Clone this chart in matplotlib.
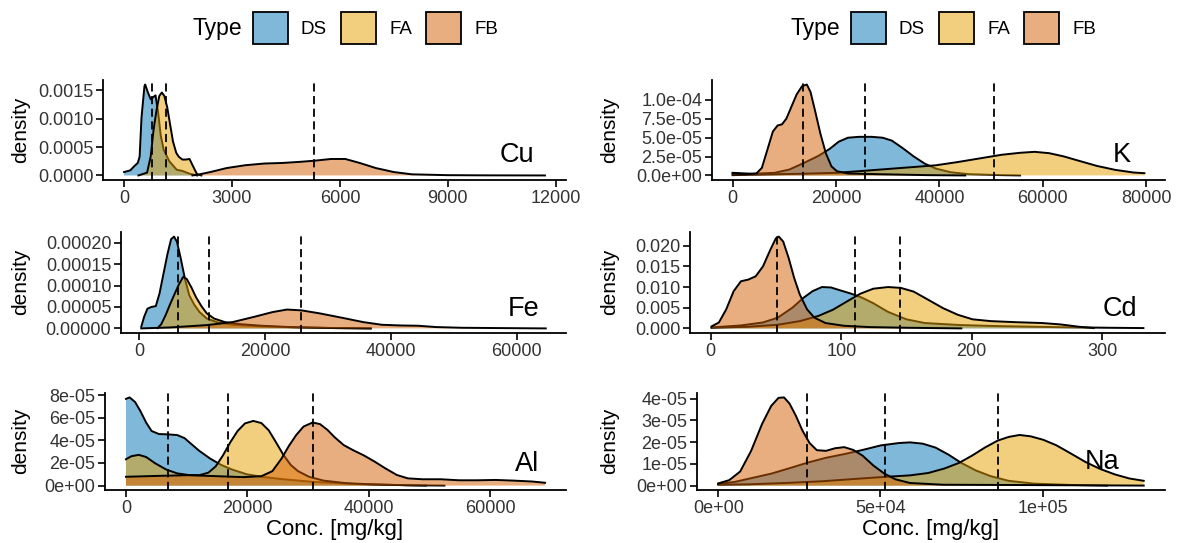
import matplotlib
matplotlib.use('Agg')
import matplotlib.pyplot as plt
from matplotlib.patches import Patch
from matplotlib.colors import to_rgba

plt.rcParams['font.family'] = ['Liberation Sans', 'DejaVu Sans']

groups = ['DS', 'FA', 'FB']
colors = ['#0072B2', '#E69F00', '#D55E00']

# ---- Cu ----
cu_ds_x = [0, 175, 278, 381, 433, 485, 567, 588, 670, 742, 814, 876, 949, 1021, 1103, 1258, 1464, 1619, 1825, 2031]
cu_ds_y = [0.00006, 0.00009, 0.00016, 0.00022, 0.00033, 0.00102, 0.00157, 0.0016, 0.00145, 0.00134, 0.00138,
           0.00141, 0.0011, 0.0007, 0.00045, 0.00025, 0.0001, 0.00008, 0.00003, 0.0]
cu_fa_x = [400, 640, 740, 820, 900, 980, 1050, 1120, 1200, 1280, 1360, 1450, 1520, 1620, 1720, 1820, 1920, 2030, 2150]
cu_fa_y = [0.0, 0.00005, 0.00033, 0.0008, 0.00114, 0.0014, 0.00146, 0.0014, 0.0012, 0.0009, 0.0006, 0.0004,
           0.00033, 0.00028, 0.00028, 0.00029, 0.00016, 0.00002, 0.0]
cu_fb_x = [1900, 2100, 2400, 2850, 3370, 3900, 4400, 4900, 5300, 5750, 6150, 6550, 7000, 7500, 8000, 9000, 10000, 11700]
cu_fb_y = [0.0, 0.00002, 0.00006, 0.00013, 0.00018, 0.00021, 0.00022, 0.00024, 0.00026, 0.00029, 0.00029,
           0.00022, 0.00013, 0.00006, 0.00002, 0.000005, 0.000002, 0.0]
cu_medians = [773, 1175, 5278]
cu_xticks = [0, 3000, 6000, 9000, 12000]
cu_xlabels = ['0', '3000', '6000', '9000', '12000']
cu_yticks = [0, 0.0005, 0.0010, 0.0015]
cu_ylabels = ['0.0000', '0.0005', '0.0010', '0.0015']

# ---- K ----
k_ds_x = [0, 3900, 8140, 10970, 13800, 16640, 18760, 20530, 22300, 24430, 26900, 29030, 30800, 32920, 35050,
          37170, 39300, 42130, 45670, 52000, 55600]
k_ds_y = [3.5e-06, 2.2e-06, 3.5e-06, 7.8e-06, 1.65e-05, 2.6e-05, 3.5e-05, 4.46e-05, 4.98e-05, 5.1e-05, 5.1e-05,
          4.98e-05, 4.6e-05, 3.6e-05, 2.5e-05, 1.56e-05, 9.1e-06, 4.3e-06, 1.7e-06, 4e-07, 0.0]
k_fa_x = [0, 6020, 13100, 20180, 25130, 29380, 34340, 39300, 43540, 47790, 52040, 55580, 58410, 61240, 64070,
          66910, 70450, 73990, 77520, 79650]
k_fa_y = [4e-07, 1.3e-06, 2.2e-06, 3.5e-06, 6e-06, 8.2e-06, 1.08e-05, 1.34e-05, 1.77e-05, 2.25e-05, 2.73e-05,
          2.99e-05, 3.12e-05, 2.94e-05, 2.51e-05, 1.95e-05, 1.26e-05, 7.4e-06, 3.9e-06, 3e-06]
k_fb_x = [0, 2480, 4600, 5660, 6730, 7790, 8710, 9560, 10400, 11330, 12390, 13450, 14370, 15080, 15930, 16990,
          18050, 19120, 20180, 22300, 27970, 37900, 45000]
k_fb_y = [2.6e-06, 1.7e-06, 2.6e-06, 1.0e-05, 3.4e-05, 5.8e-05, 6.6e-05, 6.75e-05, 7.5e-05, 9.0e-05, 1.07e-04,
          1.18e-04, 1.2e-04, 1.1e-04, 8.6e-05, 5.5e-05, 2.9e-05, 1.2e-05, 5.6e-06, 2.6e-06, 1.7e-06, 4e-07, 0.0]
k_medians = [25700, 50620, 13590]
k_xticks = [0, 20000, 40000, 60000, 80000]
k_xlabels = ['0', '20000', '40000', '60000', '80000']
k_yticks = [0, 2.5e-05, 5.0e-05, 7.5e-05, 1.0e-04]
k_ylabels = ['0.0e+00', '2.5e-05', '5.0e-05', '7.5e-05', '1.0e-04']

# ---- Fe ----
fe_ds_x = [290, 750, 1280, 1910, 2610, 3190, 3770, 4460, 5040, 5510, 5970, 6550, 7250, 7940, 8700, 9570, 10720,
           12460, 14780, 19420, 25220, 31010, 36800]
fe_ds_y = [3.8e-06, 2.7e-05, 4.6e-05, 5.0e-05, 5.2e-05, 8.1e-05, 1.23e-04, 1.73e-04, 2.08e-04, 2.14e-04, 2.02e-04,
           1.65e-04, 1.15e-04, 7.7e-05, 5.6e-05, 3.8e-05, 2.3e-05, 1.4e-05, 8.5e-06, 4.6e-06, 2.3e-06, 8e-07, 0.0]
fe_fa_x = [2900, 3480, 4170, 4930, 5620, 6260, 6960, 7540, 8290, 8990, 9860, 10720, 11880, 13620, 15940, 19420,
           24060, 31010, 36800]
fe_fa_y = [8e-07, 1.0e-05, 3.1e-05, 5.8e-05, 8.1e-05, 1.02e-04, 1.2e-04, 1.15e-04, 9.5e-05, 7.3e-05, 5.2e-05,
           3.5e-05, 2.3e-05, 1.46e-05, 1.0e-05, 6.2e-06, 3.1e-06, 8e-07, 0.0]
fe_fb_x = [290, 4930, 10720, 14780, 18260, 21160, 23480, 25800, 28700, 32170, 35650, 38550, 41450, 44350, 47250,
           51300, 57100, 64640]
fe_fb_y = [0.0, 2.3e-06, 7.7e-06, 1.46e-05, 2.7e-05, 3.8e-05, 4.4e-05, 4.2e-05, 3.5e-05, 2.5e-05, 1.46e-05,
           8.5e-06, 6.9e-06, 6.2e-06, 3.1e-06, 1.5e-06, 8e-07, 0.0]
fe_medians = [6200, 11010, 25680]
fe_xticks = [0, 20000, 40000, 60000]
fe_xlabels = ['0', '20000', '40000', '60000']
fe_yticks = [0, 5e-05, 1e-04, 1.5e-04, 2e-04]
fe_ylabels = ['0.00000', '0.00005', '0.00010', '0.00015', '0.00020']

# ---- Cd ----
cd_ds_x = [0.6, 23.1, 40, 51.3, 62.5, 71, 78, 85.1, 92.1, 99.2, 107.6, 116.1, 124.5, 135.8, 149.9, 164, 192.1,
           220.3, 262.5, 304.8, 331.6]
cd_ds_y = [0.00024, 0.00072, 0.00144, 0.0026, 0.005, 0.0074, 0.009, 0.01, 0.0099, 0.0092, 0.0084, 0.0074, 0.0061,
           0.004, 0.0022, 0.0013, 0.0008, 0.00056, 0.00032, 0.00016, 0.00008]
cd_fa_x = [0.6, 28.7, 51.3, 68.2, 82.3, 93.5, 104.8, 114.7, 124.5, 135.8, 145.6, 155.5, 166.8, 178, 189.3, 200.6,
           214.7, 234.4, 254.1, 268.2, 282.3, 293.5]
cd_fa_y = [0.00016, 0.0004, 0.00088, 0.00176, 0.003, 0.0045, 0.0066, 0.0084, 0.0096, 0.01, 0.0098, 0.0089, 0.0069,
           0.0049, 0.0033, 0.0022, 0.00176, 0.0015, 0.0013, 0.00096, 0.0004, 0.00008]
cd_fb_x = [0.6, 6.2, 11.8, 17.5, 23.1, 28.7, 34.4, 40, 45.6, 49.9, 52.1, 55.5, 59.7, 63.9, 68.2, 73.8, 79.4, 87.9,
           102, 121.7, 149.9, 192]
cd_fb_y = [0.00048, 0.00144, 0.0046, 0.009, 0.0114, 0.0118, 0.0126, 0.015, 0.019, 0.0218, 0.0222, 0.021, 0.017,
           0.0122, 0.0082, 0.0046, 0.0026, 0.0013, 0.00064, 0.00032, 0.00016, 0.0]
cd_medians = [110.4, 144.8, 50.7]
cd_xticks = [0, 100, 200, 300]
cd_xlabels = ['0', '100', '200', '300']
cd_yticks = [0, 0.005, 0.010, 0.015, 0.020]
cd_ylabels = ['0.000', '0.005', '0.010', '0.015', '0.020']

# ---- Al ----
al_ds_x = [0, 603, 1510, 2410, 3320, 4220, 5430, 6930, 8440, 9650, 10850, 12060, 13870, 15680, 17490, 19900,
           22310, 25930, 30750, 37390, 46430, 52460]
al_ds_y = [7.67e-05, 7.8e-05, 7.39e-05, 6.56e-05, 5.58e-05, 4.83e-05, 4.56e-05, 4.53e-05, 4.47e-05, 4.2e-05,
           3.64e-05, 3.08e-05, 2.39e-05, 1.83e-05, 1.42e-05, 1.0e-05, 7.8e-06, 5.6e-06, 3.3e-06, 1.4e-06, 3e-07, 0.0]
al_fa_x = [0, 900, 2110, 3320, 4820, 6630, 8440, 10250, 12060, 13570, 14770, 15980, 17190, 18390, 19600, 20980,
           22310, 23520, 24720, 25930, 27140, 28340, 30150, 32560, 36180, 40400, 46430, 49450]
al_fa_y = [2.33e-05, 2.6e-05, 2.72e-05, 2.53e-05, 1.97e-05, 1.42e-05, 1.08e-05, 9.4e-06, 9.2e-06, 1.14e-05,
           1.69e-05, 2.67e-05, 3.83e-05, 4.83e-05, 5.5e-05, 5.72e-05, 5.53e-05, 4.89e-05, 3.83e-05, 2.72e-05,
           1.83e-05, 1.28e-05, 7.8e-06, 4.4e-06, 2.2e-06, 1.1e-06, 3e-07, 0.0]
al_fb_x = [0, 5430, 10250, 15080, 19300, 22310, 24120, 25630, 26830, 28040, 29250, 30750, 31960, 33170, 34370,
           35880, 37390, 39190, 41000, 42810, 44620, 46430, 48840, 51860, 54870, 57890, 60900, 63920, 66930, 69040]
al_fb_y = [7.8e-06, 8.6e-06, 9.2e-06, 8.3e-06, 7.5e-06, 8.3e-06, 1.28e-05, 2.39e-05, 3.5e-05, 4.47e-05, 5.22e-05,
           5.58e-05, 5.44e-05, 4.94e-05, 4.28e-05, 3.58e-05, 3.14e-05, 2.67e-05, 2.11e-05, 1.5e-05, 9.4e-06,
           6.4e-06, 5.6e-06, 5.6e-06, 4.7e-06, 4.7e-06, 5e-06, 4.4e-06, 3.6e-06, 2.5e-06]
al_medians = [6935, 16760, 30750]
al_xticks = [0, 20000, 40000, 60000]
al_xlabels = ['0', '20000', '40000', '60000']
al_yticks = [0, 2e-05, 4e-05, 6e-05, 8e-05]
al_ylabels = ['0e+00', '2e-05', '4e-05', '6e-05', '8e-05']

# ---- Na ----
na_ds_x = [0, 5070, 10700, 16330, 21960, 27590, 33220, 38850, 44480, 50110, 55740, 59120, 63060, 67000, 70940,
           74880, 79380, 83890, 89520, 97400, 108700, 119900]
na_ds_y = [7e-07, 1.7e-06, 3.6e-06, 5.5e-06, 8e-06, 1.06e-05, 1.28e-05, 1.45e-05, 1.64e-05, 1.85e-05, 1.96e-05,
           1.99e-05, 1.93e-05, 1.75e-05, 1.43e-05, 1.05e-05, 7e-06, 4.4e-06, 2.2e-06, 9e-07, 3e-07, 0.0]
na_fa_x = [0, 9570, 20830, 32090, 43350, 52360, 59120, 64750, 69810, 74320, 78260, 82200, 86140, 89520, 92900,
           96270, 100200, 104200, 108700, 113200, 117700, 122200, 126700, 131200]
na_fa_y = [4e-07, 6e-07, 1.2e-06, 2.0e-06, 3.2e-06, 4.1e-06, 4.7e-06, 5.8e-06, 7.9e-06, 1.05e-05, 1.38e-05,
           1.75e-05, 2.07e-05, 2.24e-05, 2.33e-05, 2.27e-05, 2.11e-05, 1.86e-05, 1.48e-05, 1.09e-05, 7.7e-06,
           5.2e-06, 3.3e-06, 2.2e-06]
na_fb_x = [0, 3380, 6760, 10130, 13510, 16330, 18580, 20270, 21960, 23980, 25900, 28150, 30400, 33220, 36030,
           38850, 41660, 44480, 47860, 51230, 54610, 59120, 69250, 86140, 108700, 131200]
na_fb_y = [1.0e-06, 2.5e-06, 6.5e-06, 1.6e-05, 2.84e-05, 3.67e-05, 4.04e-05, 4.06e-05, 3.78e-05, 3.2e-05,
           2.55e-05, 1.96e-05, 1.63e-05, 1.6e-05, 1.72e-05, 1.77e-05, 1.64e-05, 1.38e-05, 9.2e-06, 5.5e-06,
           2.9e-06, 1.2e-06, 4e-07, 3e-07, 1.5e-07, 0.0]
na_medians = [51350, 86250, 27250]
na_xticks = [0, 50000, 100000]
na_xlabels = ['0e+00', '5e+04', '1e+05']
na_yticks = [0, 1e-05, 2e-05, 3e-05, 4e-05]
na_ylabels = ['0e+00', '1e-05', '2e-05', '3e-05', '4e-05']

W, H = 1181, 543
fig = plt.figure(figsize=(W / 100, H / 100), dpi=100)


def box(l, t, r, b):
    return [l / W, 1 - b / H, (r - l) / W, (b - t) / H]


panels = [
    ('Cu', box(103, 80, 566, 180), [(cu_ds_x, cu_ds_y), (cu_fa_x, cu_fa_y), (cu_fb_x, cu_fb_y)], cu_medians,
     cu_xticks, cu_xlabels, cu_yticks, cu_ylabels, (0.895, 0.25)),
    ('Fe', box(121, 232, 566, 333), [(fe_ds_x, fe_ds_y), (fe_fa_x, fe_fa_y), (fe_fb_x, fe_fb_y)], fe_medians,
     fe_xticks, fe_xlabels, fe_yticks, fe_ylabels, (0.905, 0.24)),
    ('Al', box(105, 393, 566, 490), [(al_ds_x, al_ds_y), (al_fa_x, al_fa_y), (al_fb_x, al_fb_y)], al_medians,
     al_xticks, al_xlabels, al_yticks, al_ylabels, (0.915, 0.27)),
    ('K', box(712, 80, 1165, 180), [(k_ds_x, k_ds_y), (k_fa_x, k_fa_y), (k_fb_x, k_fb_y)], k_medians,
     k_xticks, k_xlabels, k_yticks, k_ylabels, (0.905, 0.25)),
    ('Cd', box(690, 232, 1165, 333), [(cd_ds_x, cd_ds_y), (cd_fa_x, cd_fa_y), (cd_fb_x, cd_fb_y)], cd_medians,
     cd_xticks, cd_xlabels, cd_yticks, cd_ylabels, (0.905, 0.24)),
    ('Na', box(697, 393, 1165, 490), [(na_ds_x, na_ds_y), (na_fa_x, na_fa_y), (na_fb_x, na_fb_y)], na_medians,
     na_xticks, na_xlabels, na_yticks, na_ylabels, (0.865, 0.29)),
]

for name, pos, curves, meds, xt, xl, yt, yl, lab in panels:
    ax = fig.add_axes(pos)
    z = 1
    for (x, y), c in zip(curves, colors):
        # ggplot-style density: translucent fill, black upper outline
        ax.fill_between(x, 0, y, facecolor=to_rgba(c, 0.5), edgecolor='none', zorder=z)
        ax.plot(x, y, color='black', linewidth=1.4, zorder=z + 0.5)
        z += 1
    for m in meds:
        ax.axvline(m, color='black', linestyle=(0, (4.5, 2.5)), linewidth=1.3, zorder=10)
    ax.set_xticks(xt)
    ax.set_xticklabels(xl)
    ax.set_yticks(yt)
    ax.set_yticklabels(yl)
    ax.margins(x=0.05, y=0.05)
    for s in ['top', 'right']:
        ax.spines[s].set_visible(False)
    for s in ['left', 'bottom']:
        ax.spines[s].set_linewidth(1.3)
    ax.tick_params(labelsize=13, width=1.2, length=5, colors='black', labelcolor='#333333', pad=2)
    ax.set_facecolor('none')
    ax.text(lab[0], lab[1], name, transform=ax.transAxes, fontsize=19.5, ha='center', va='center')

# axis titles
for yc in [130, 282, 441]:
    fig.text(21 / W, 1 - yc / H, 'density', rotation=90, ha='center', va='center', fontsize=15)
    fig.text(610 / W, 1 - yc / H, 'density', rotation=90, ha='center', va='center', fontsize=15)
fig.text(335 / W, 1 - 529 / H, 'Conc. [mg/kg]', ha='center', va='center', fontsize=16)
fig.text(931 / W, 1 - 529 / H, 'Conc. [mg/kg]', ha='center', va='center', fontsize=16)

# legends
handles = [Patch(facecolor=to_rgba(c, 0.5), edgecolor='black', linewidth=1.3) for c in colors]
for tx, lx in [(242, 253), (840, 851)]:
    fig.text(tx / W, 1 - 29 / H, 'Type', ha='right', va='center', fontsize=16.5)
    fig.legend(handles, groups, loc='center left', bbox_to_anchor=(lx / W, 1 - 28 / H), ncol=3,
               frameon=False, fontsize=13.5, handlelength=1.87, handleheight=2.33, handletextpad=0.69,
               columnspacing=0.75, borderaxespad=0, borderpad=0)

fig.savefig('out.png', dpi=100)
